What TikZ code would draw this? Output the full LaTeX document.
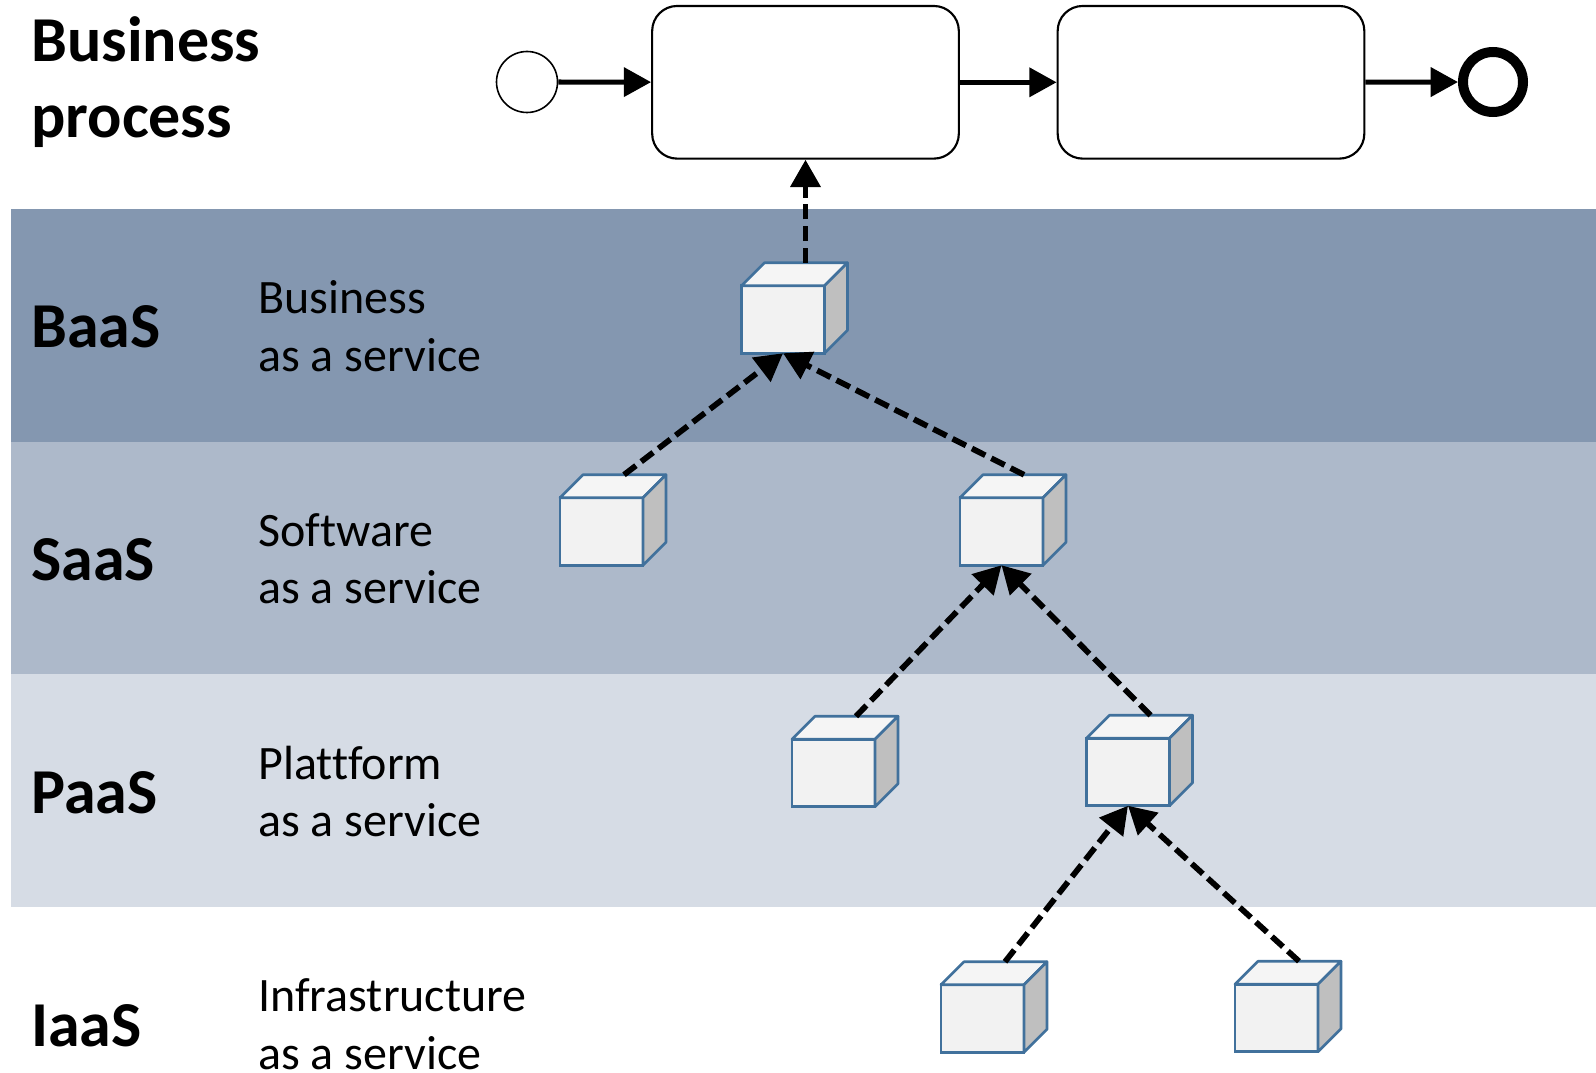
\documentclass[tikz,border=0pt]{standalone}
\usepackage{fontspec}
\setmainfont[Ligatures=NoCommon]{Carlito}
\usepackage{xcolor}
\usetikzlibrary{arrows.meta,positioning,calc}

\definecolor{bandB}{HTML}{8497B0}
\definecolor{bandS}{HTML}{ADB9CA}
\definecolor{bandP}{HTML}{D6DCE5}
\definecolor{cubeline}{HTML}{41719C}

\tikzset{
  bold label/.style={anchor=base west, inner sep=0pt, align=left, font=\fontsize{48}{57}\selectfont\bfseries},
  text label/.style={anchor=base west, inner sep=0pt, align=left, font=\fontsize{36}{43}\selectfont},
  task/.style={draw, line width=1.6pt, fill=white, rounded corners=18.75pt, minimum width=230pt, minimum height=114.5pt, inner sep=0pt},
  start event/.style={circle, draw, line width=1.2pt, fill=white, minimum size=45.75pt, inner sep=0pt},
  end event/.style={circle, draw, line width=7.5pt, fill=white, minimum size=45pt, inner sep=0pt},
  flow/.style={-{Triangle[length=20.5pt,width=21.5pt]}, line width=3.8pt},
  uses/.style={-{Triangle[length=20.5pt,width=22pt]}, line width=4.3pt, dash pattern=on 11.25pt off 5pt},
  cube front/.style={draw=cubeline, line width=2pt, fill=black!5, minimum width=62.25pt, minimum height=50.6pt, inner sep=0pt, outer sep=0pt},
  cube top/.style={draw=cubeline, line width=2pt, fill=black!4, line join=round},
  cube side/.style={draw=cubeline, line width=2pt, fill=black!25, line join=round}
}

\begin{document}
\begin{tikzpicture}[x=0.75pt, y=-0.75pt]

\useasboundingbox (0,0) rectangle (1596,1073);

\foreach \c [count=\y from 0] in {bandB,bandS,bandP}
  \fill [\c] (11,209+\y*232.7) rectangle (1596,209+\y*232.7+232.7);

\node [bold label] (title) at (31,138) {Business\\process};

\foreach \m/\l [count=\y from 0] in {BaaS/Business,SaaS/Software,PaaS/Plattform,IaaS/Infrastructure} {
  \node [bold label] (name-\m) at (31,348+\y*232.7) {\m};
  \node [text label] (long-\m) at (258,371+\y*232.7) {\l\\as a service};
}

\node [start event] (start) at (527,82) {};
\node [task] (task-1) at (805.5,82.3) {};
\node [task] (task-2) at (1211,82.3) {};
\node [end event] (end) at (1493,82) {};

\draw [flow] (start) -- (task-1);
\draw [flow] (task-1) -- (task-2);
\draw [flow] (task-2) -- (end);

\foreach \m/\x/\y in {baas/783/319.5, saas-1/601.5/531.5, saas-2/1001.5/531.5, paas-1/833.5/773, paas-2/1128/772, iaas-1/982.5/1018.5, iaas-2/1276.5/1018} {
  \node [cube front] (\m) at (\x,\y) {};
  \draw [cube top] (\m.north west) -- ++(23,-23) -- ++(83,0) -- (\m.north east) -- cycle;
  \draw [cube side] (\m.north east) -- ++(23,-23) -- ++(0,67.5) -- (\m.south east) -- cycle;
  \coordinate (\m-top) at ([shift={(22.5,-23)}]\m.north);
}

\draw [uses] (baas-top) -- (task-1.south);

\foreach \i/\j in {saas-1/baas, saas-2/baas, paas-1/saas-2, paas-2/saas-2, iaas-1/paas-2, iaas-2/paas-2}
  \draw [uses] (\i-top) -- (\j.south);

\end{tikzpicture}
\end{document}
